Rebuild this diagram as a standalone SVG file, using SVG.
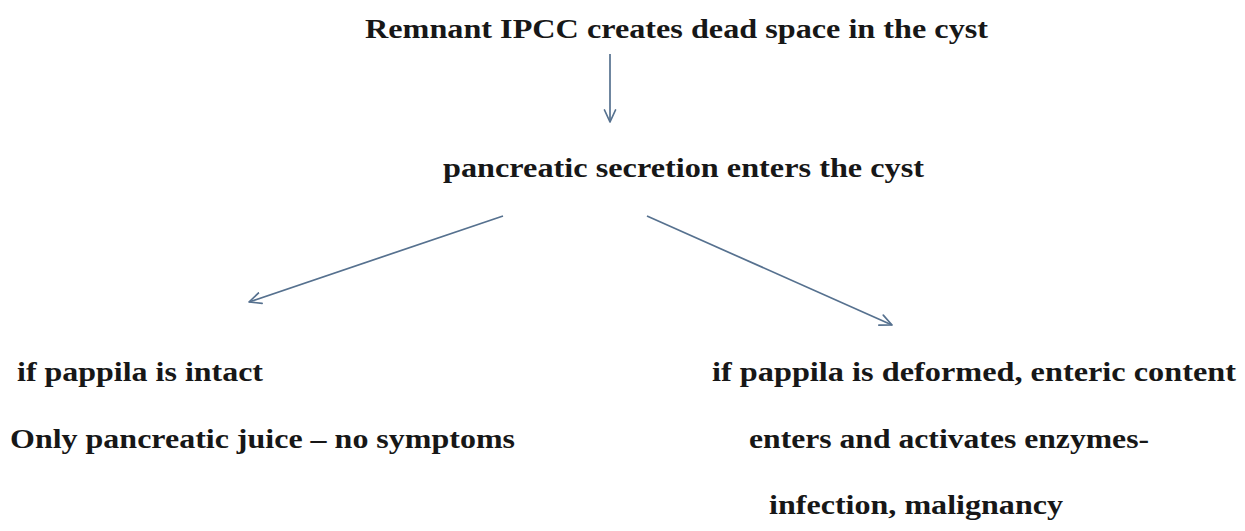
<svg xmlns="http://www.w3.org/2000/svg" width="1245" height="531" viewBox="0 0 1245 531">
<defs>
<style>
.t{font-family:"Liberation Serif","Times New Roman",serif;font-weight:bold;font-size:28px;fill:#171717}
.c{stroke:#56718f;stroke-width:1.7;fill:none}
.h{stroke:#56718f;stroke-width:1.7;fill:none;stroke-linecap:round;stroke-linejoin:round}
</style>
<marker id="ah" viewBox="0 0 14 14" refX="13" refY="7" markerWidth="14" markerHeight="14" markerUnits="userSpaceOnUse" orient="auto">
<path d="M1,1.5 L13,7 L1,12.5" class="h"/>
</marker>
</defs>
<rect width="1245" height="531" fill="#ffffff"/>
<g id="n1"><text class="t" x="365" y="38" textLength="623" lengthAdjust="spacingAndGlyphs">Remnant IPCC creates dead space in the cyst</text></g>
<g id="n2"><text class="t" x="443" y="177" textLength="481" lengthAdjust="spacingAndGlyphs">pancreatic secretion enters the cyst</text></g>
<g id="n3">
<text class="t" x="17" y="381" textLength="246" lengthAdjust="spacingAndGlyphs">if pappila is intact</text>
<text class="t" x="10" y="448" textLength="505" lengthAdjust="spacingAndGlyphs">Only pancreatic juice – no symptoms</text>
</g>
<g id="n4">
<text class="t" x="712" y="381" textLength="524" lengthAdjust="spacingAndGlyphs">if pappila is deformed, enteric content</text>
<text class="t" x="749" y="448" textLength="400" lengthAdjust="spacingAndGlyphs">enters and activates enzymes-</text>
<text class="t" x="769" y="514" textLength="294" lengthAdjust="spacingAndGlyphs">infection, malignancy</text>
</g>
<g id="connectors">
<line class="c" x1="610" y1="54" x2="610" y2="122" marker-end="url(#ah)"/>
<line class="c" x1="503" y1="216" x2="249" y2="302" marker-end="url(#ah)"/>
<line class="c" x1="647" y1="216" x2="892" y2="325" marker-end="url(#ah)"/>
</g>
</svg>
